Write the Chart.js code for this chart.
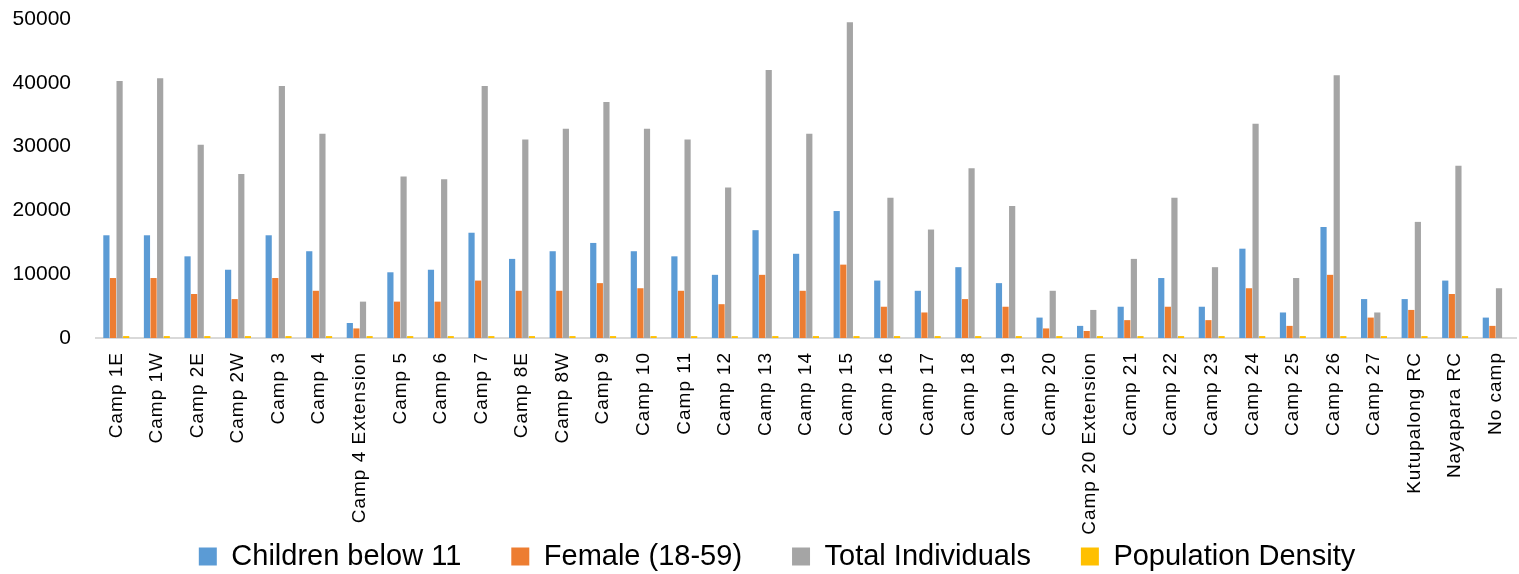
<!DOCTYPE html>
<html>
<head>
<meta charset="utf-8">
<script src="https://cdn.jsdelivr.net/npm/chart.js@4/dist/chart.umd.min.js"></script>
<style>
  html, body { margin: 0; padding: 0; background: #fff; }
  #wrap { width: 1519px; height: 574px; }
</style>
</head>
<body>
<div id="wrap"><canvas id="c" width="1519" height="574"></canvas></div>
<script>
// Camp names along the x axis
const camps = ['Camp 1E', 'Camp 1W', 'Camp 2E', 'Camp 2W', 'Camp 3', 'Camp 4', 'Camp 4 Extension',
  'Camp 5', 'Camp 6', 'Camp 7', 'Camp 8E', 'Camp 8W', 'Camp 9', 'Camp 10', 'Camp 11', 'Camp 12',
  'Camp 13', 'Camp 14', 'Camp 15', 'Camp 16', 'Camp 17', 'Camp 18', 'Camp 19', 'Camp 20',
  'Camp 20 Extension', 'Camp 21', 'Camp 22', 'Camp 23', 'Camp 24', 'Camp 25', 'Camp 26', 'Camp 27',
  'Kutupalong RC', 'Nayapara RC', 'No camp'];

// Series values per camp
const childrenBelow11 = [16100, 16100, 12800, 10700, 16100, 13600, 2350, 10300, 10700, 16500, 12400, 13600,
  14900, 13600, 12800, 9900, 16900, 13200, 19900, 9000, 7400, 11100, 8600, 3200, 1900, 4900, 9400, 4900,
  14000, 4000, 17400, 6100, 6100, 9000, 3200];
const female18to59 = [9400, 9400, 6900, 6100, 9400, 7400, 1500, 5700, 5700, 9000, 7400, 7400, 8600, 7800,
  7400, 5300, 9900, 7400, 11500, 4900, 4000, 6100, 4900, 1500, 1100, 2800, 4900, 2800, 7800, 1900, 9900,
  3200, 4400, 6900, 1900];
const totalIndividuals = [40300, 40700, 30300, 25700, 39500, 32000, 5700, 25300, 24900, 39500, 31100, 32800,
  37000, 32800, 31100, 23600, 42000, 32000, 49500, 22000, 17000, 26600, 20700, 7400, 4400, 12400, 22000,
  11100, 33600, 9400, 41200, 4000, 18200, 27000, 7800];
const populationDensity = [300, 300, 300, 300, 300, 300, 300, 300, 300, 300, 300, 300, 300, 300, 300, 300,
  300, 300, 300, 300, 300, 300, 300, 300, 300, 300, 300, 300, 300, 300, 300, 300, 300, 300, 0];

// Y axis tick values
const yTicks = [0, 10000, 20000, 30000, 40000, 50000];

const FONT = "'Liberation Sans', Arial, sans-serif";

const series = [
  { label: 'Children below 11', data: childrenBelow11, color: '#5B9BD5' },
  { label: 'Female (18-59)', data: female18to59, color: '#ED7D31' },
  { label: 'Total Individuals', data: totalIndividuals, color: '#A5A5A5' },
  { label: 'Population Density', data: populationDensity, color: '#FFC000' }
];

// Category labels: slightly spaced out and allowed to run below the axis box
const axisTweaks = {
  id: 'axisTweaks',
  beforeDraw(chart) {
    const xs = chart.scales.x;
    if (!xs || xs._tweaked) return;
    const orig = xs.drawLabels.bind(xs);
    xs._computeLabelArea = () => undefined;
    xs.drawLabels = (area) => {
      const ctx = chart.ctx;
      const prev = ctx.letterSpacing;
      ctx.letterSpacing = '1px';
      orig(area);
      ctx.letterSpacing = prev || '0px';
    };
    xs._tweaked = true;
  },
  afterLayout(chart) {
    // nudge the legend row a little to the right
    const lg = chart.legend;
    if (lg) { lg.left += 19; lg.right += 19; }
  }
};

new Chart(document.getElementById('c'), {
  type: 'bar',
  data: {
    labels: camps,
    datasets: series.map(s => ({
      label: s.label,
      data: s.data,
      backgroundColor: s.color,
      borderWidth: 0,
      categoryPercentage: 0.65,
      barPercentage: 0.94
    }))
  },
  options: {
    responsive: false,
    animation: false,
    devicePixelRatio: 1,
    layout: { padding: { left: 0, right: 3, top: 19, bottom: -7 } },
    plugins: {
      tooltip: { enabled: false },
      legend: {
        position: 'bottom',
        labels: {
          boxWidth: 18,
          boxHeight: 18,
          padding: 50,
          color: '#000',
          font: { family: FONT, size: 29 }
        }
      }
    },
    scales: {
      x: {
        grid: { display: false, drawTicks: false },
        border: { display: true, color: '#D9D9D9', width: 2 },
        ticks: {
          autoSkip: false,
          minRotation: 90,
          maxRotation: 90,
          padding: 14,
          color: '#000',
          font: { family: FONT, size: 19 }
        },
        afterFit(scale) {
          scale.height = 154;
          scale.paddingLeft = 0;
          scale.paddingRight = 0;
        }
      },
      y: {
        min: 0,
        max: 50000,
        afterBuildTicks(scale) { scale.ticks = yTicks.map(v => ({ value: v })); },
        grid: { display: false, drawTicks: false },
        border: { display: false },
        ticks: {
          padding: 25,
          color: '#000',
          font: { family: FONT, size: 21 },
          callback: v => String(v)
        },
        afterFit(scale) {
          scale.width = 96;
          scale.paddingTop = 12;
          scale.paddingBottom = 12;
        }
      }
    }
  },
  plugins: [axisTweaks]
});
</script>
</body>
</html>
